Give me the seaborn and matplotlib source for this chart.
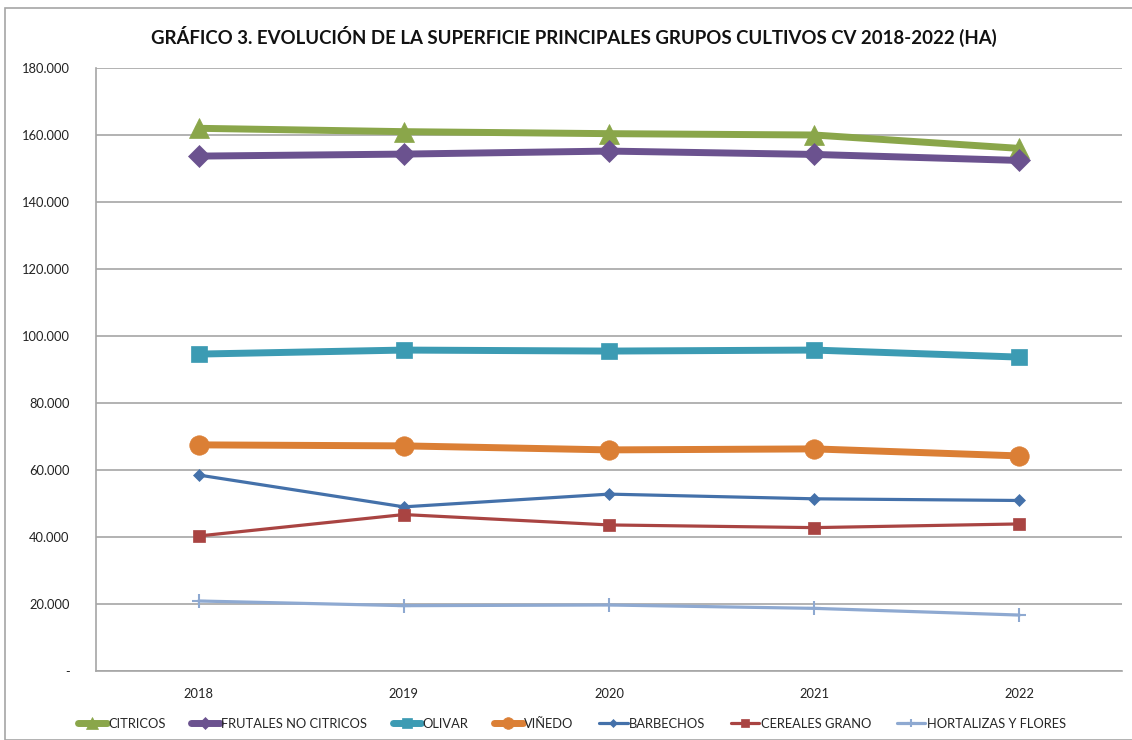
import matplotlib
matplotlib.use("Agg")
import matplotlib.pyplot as plt
import matplotlib.ticker as mticker
from matplotlib.patches import Rectangle
import seaborn as sns
import pandas as pd

years = ["2018", "2019", "2020", "2021", "2022"]
citricos = [162000, 161000, 160400, 160000, 156000]
frutales = [153700, 154300, 155200, 154200, 152400]
olivar = [94600, 95800, 95500, 95800, 93700]
vinedo = [67500, 67200, 66000, 66300, 64200]
barbechos = [58500, 49000, 52800, 51400, 50900]
cereales = [40300, 46700, 43600, 42800, 43900]
hortalizas = [20900, 19500, 19700, 18700, 16700]

series_names = ["CITRICOS", "FRUTALES NO CITRICOS", "OLIVAR", "VIÑEDO",
                "BARBECHOS", "CEREALES GRANO", "HORTALIZAS Y FLORES"]
series_values = [citricos, frutales, olivar, vinedo, barbechos, cereales, hortalizas]

colors = ["#8AA64A", "#6B528F", "#3C9BB3", "#DB7F35", "#4471AA", "#A94442", "#8EA9D1"]
markers = ["^", "D", "s", "o", "D", "s", "+"]
msizes = [14, 11, 11, 14, 6.5, 9, 10]
lwidths = [5.0, 5.0, 5.0, 5.0, 2.3, 2.3, 2.3]

sns.set_theme(style="white")
plt.rcParams['font.family'] = ['Lato', 'DejaVu Sans']

fig = plt.figure(figsize=(11.32, 7.40), dpi=100)
ax = fig.add_axes([96/1132, 1-671/740, (1122-96)/1132, (671-68)/740])

rows = []
for name, vals in zip(series_names, series_values):
    for i, (y, v) in enumerate(zip(years, vals)):
        rows.append({"serie": name, "pos": i, "year": y, "value": v})
df = pd.DataFrame(rows)

for name, c, m, ms, lw in zip(series_names, colors, markers, msizes, lwidths):
    sub = df[df["serie"] == name]
    sns.lineplot(data=sub, x="pos", y="value", ax=ax, color=c, marker=m,
                 markersize=ms, linewidth=lw, markeredgecolor=c,
                 markeredgewidth=1.5 if m == "+" else 0.5, label=name,
                 legend=False, zorder=3)

ax.set_xlim(-0.5, 4.5)
ax.set_ylim(0, 180000)
ax.set_xticks(range(len(years)))
ax.set_xticklabels(years)
ax.set_yticks(range(0, 180001, 20000))

def fmt(v, pos):
    if v == 0:
        return "-"
    return f"{int(v):,}".replace(",", ".")
ax.yaxis.set_major_formatter(mticker.FuncFormatter(fmt))
ax.tick_params(axis="both", labelsize=9.3, colors="#222222", length=0)
ax.tick_params(axis="y", pad=19)
ax.tick_params(axis="x", pad=12)
ax.set_xlabel("")
ax.set_ylabel("")
ax.grid(axis="y", color="#A6A6A6", linewidth=1.2, zorder=0)
ax.set_axisbelow(True)
for s in ["top", "right"]:
    ax.spines[s].set_visible(False)
for s in ["left", "bottom"]:
    ax.spines[s].set_color("#A6A6A6")
    ax.spines[s].set_linewidth(1.2)

fig.text(574/1132, 1-36/740,
         "GRÁFICO 3. EVOLUCIÓN DE LA SUPERFICIE PRINCIPALES GRUPOS CULTIVOS CV 2018-2022 (HA)",
         ha="center", va="center", fontsize=13.4, fontweight="bold", color="#111111")

handles, labels = ax.get_legend_handles_labels()
leg = fig.legend(handles, labels, loc="center", bbox_to_anchor=(572/1132, 1-724/740),
                 ncol=7, frameon=False, fontsize=9.3, handlelength=2.2,
                 handletextpad=0.1, columnspacing=2.0, markerscale=0.6)

fig.patches.append(Rectangle((5/1132, 0), 1.2, 1-8/740, transform=fig.transFigure,
                             fill=False, edgecolor="#A6A6A6", linewidth=1.2))

fig.savefig("out.png", dpi=100)
